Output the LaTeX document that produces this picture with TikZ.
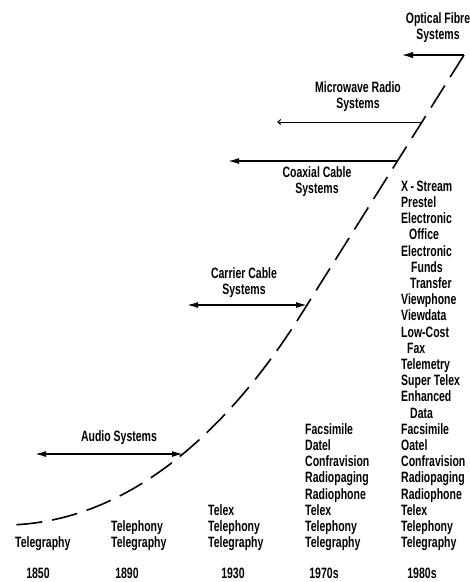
\documentclass[tikz,border=0pt]{standalone}
\usepackage{fontspec}
\newfontfamily\labfont{Liberation Sans}[FakeStretch=0.70]
\usetikzlibrary{arrows.meta}
\begin{document}
\begin{tikzpicture}[x=1pt,y=-1pt,
  >={Latex[length=11pt,width=6pt]},
  lab/.style={font=\labfont\bfseries\fontsize{15}{16.2}\selectfont, inner sep=0pt, align=center},
  col/.style={font=\labfont\bfseries\fontsize{15}{16.2}\selectfont, inner sep=0pt, align=left, anchor=south west},
  year/.style={font=\labfont\bfseries\fontsize{15}{16.2}\selectfont, inner sep=0pt, anchor=base},
  curve/.style={line width=1.6pt, dash pattern=on 26pt off 10pt},
  arr/.style={line width=1.4pt}
]
\useasboundingbox (0,0) rectangle (470,582);
% curve points
\coordinate (top) at (464,55);
\coordinate (knee) at (302,313);
\coordinate (start) at (8,525);
\coordinate (mw) at (422,122);
\coordinate (cx) at (397,161);
\coordinate (cc) at (307,305);
\coordinate (au) at (183,454);
\coordinate (optL) at (402,55);
\coordinate (mwL) at (277,122);
\coordinate (cxL) at (228,161);
\coordinate (ccL) at (187,305);
\coordinate (auL) at (35,454);
% dashed growth curve
\draw[curve] (top) -- (knee) .. controls (250,396) and (150,522) .. (start);
% arrows
\draw[arr,-{Latex[length=11pt,width=6.5pt]}] (top) -- (optL);
\draw[line width=1pt,-{Straight Barb[length=3pt,width=5pt]}] (mw) -- (mwL);
\draw[arr,->] (cx) -- (cxL);
\draw[arr,<->] (ccL) -- (cc);
\draw[arr,<->] (auL) -- (au);
% labels
\node[lab] (opt) at (438,28) {Optical Fibre\\Systems};
\node[lab] (mwt) at (358,97) {Microwave Radio\\Systems};
\node[lab] (cxt) at (317,182) {Coaxial Cable\\Systems};
\node[lab] (cct) at (244,283) {Carrier Cable\\Systems};
\node[lab] (aut) at (119,438) {Audio Systems};
% columns
\node[col] (c1) at (15,551) {Telegraphy};
\node[col] (c2) at (111,551) {Telephony\\Telegraphy};
\node[col] (c3) at (208,551) {Telex\\Telephony\\Telegraphy};
\node[col] (c4) at (305,551) {Facsimile\\Datel\\Confravision\\Radiopaging\\Radiophone\\Telex\\Telephony\\Telegraphy};
\node[col] (c5) at (401,551) {X\,-\,Stream\\Prestel\\Electronic\\\hspace*{8pt}Office\\Electronic\\\hspace*{10pt}Funds\\\hspace*{9pt}Transfer\\Viewphone\\Viewdata\\Low-Cost\\\hspace*{6pt}Fax\\Telemetry\\Super Telex\\Enhanced\\\hspace*{9pt}Data\\Facsimile\\Oatel\\Confravision\\Radiopaging\\Radiophone\\Telex\\Telephony\\Telegraphy};
% years
\node[year] (y1) at (38,578) {1850};
\node[year] (y2) at (127,578) {1890};
\node[year] (y3) at (233,578) {1930};
\node[year] (y4) at (324,578) {1970s};
\node[year] (y5) at (422,578) {1980s};
\end{tikzpicture}
\end{document}
